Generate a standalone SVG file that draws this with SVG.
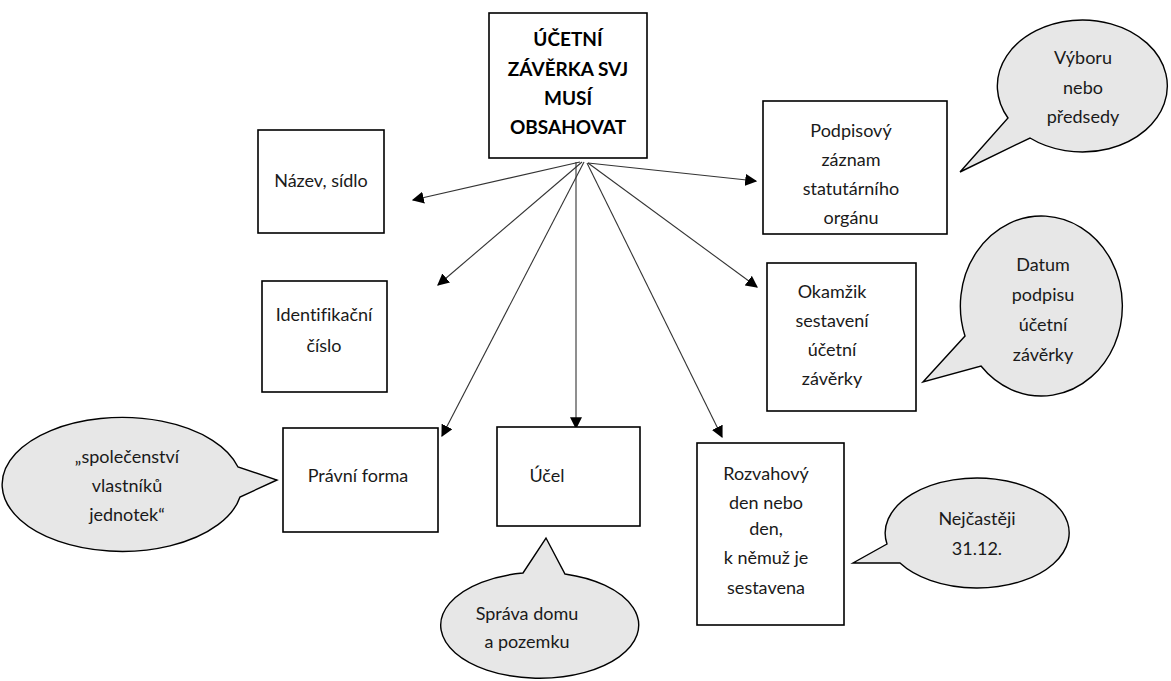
<svg xmlns="http://www.w3.org/2000/svg" width="1171" height="681" viewBox="0 0 1171 681">
<style>
.box{fill:#fff;stroke:#000;stroke-width:1.6}
.bub{fill:#e7e7e7;stroke:#000;stroke-width:1.4;stroke-linejoin:miter}
.t{font-family:Lato,"Open Sans","Liberation Sans",sans-serif;font-size:18px;fill:#1a1a1a;text-anchor:middle;dominant-baseline:central;font-variant-ligatures:none}
.b{font-weight:bold;fill:#000;font-size:19px}
.c{stroke:#333;stroke-width:1.1;fill:none;marker-end:url(#ah)}
</style>
<defs>
<marker id="ah" viewBox="0 0 10 10" refX="9" refY="5" markerWidth="12" markerHeight="12" markerUnits="userSpaceOnUse" orient="auto">
<path d="M0,0 L10,5 L0,10 z" fill="#000"/>
</marker>
</defs>
<rect width="1171" height="681" fill="#fff"/>
<g id="connectors">
<line class="c" x1="580" y1="162" x2="413" y2="200"/>
<line class="c" x1="582" y1="162" x2="438" y2="285"/>
<line class="c" x1="584" y1="162" x2="442" y2="436"/>
<line class="c" x1="576" y1="162" x2="576" y2="428"/>
<line class="c" x1="587" y1="163" x2="722" y2="437"/>
<line class="c" x1="588" y1="163" x2="757" y2="287"/>
<line class="c" x1="588" y1="163" x2="756" y2="181"/>
</g>
<g id="main">
<rect class="box" x="489" y="13" width="158" height="145"/>
<text class="t b" x="568" y="38">ÚČETNÍ</text>
<text class="t b" x="568" y="68">ZÁVĚRKA SVJ</text>
<text class="t b" x="568" y="97">MUSÍ</text>
<text class="t b" x="568" y="126">OBSAHOVAT</text>
</g>
<g id="nazev">
<rect class="box" x="258" y="130" width="126" height="103"/>
<text class="t" x="321" y="180">Název, sídlo</text>
</g>
<g id="ico">
<rect class="box" x="262" y="281" width="125" height="111"/>
<text class="t" x="324" y="314">Identifikační</text>
<text class="t" x="324" y="345">číslo</text>
</g>
<g id="pravni">
<rect class="box" x="283" y="428" width="155" height="104"/>
<text class="t" x="358" y="475">Právní forma</text>
</g>
<g id="ucel">
<rect class="box" x="497" y="427" width="143" height="99"/>
<text class="t" x="547" y="475">Účel</text>
</g>
<g id="rozvahovy">
<rect class="box" x="697" y="443" width="147" height="182"/>
<text class="t" x="766" y="473">Rozvahový</text>
<text class="t" x="766" y="502">den nebo</text>
<text class="t" x="766" y="528">den,</text>
<text class="t" x="766" y="557">k němuž je</text>
<text class="t" x="766" y="587">sestavena</text>
</g>
<g id="podpisovy">
<rect class="box" x="763" y="101" width="184" height="133"/>
<text class="t" x="851" y="130">Podpisový</text>
<text class="t" x="851" y="159">záznam</text>
<text class="t" x="851" y="188">statutárního</text>
<text class="t" x="851" y="217">orgánu</text>
</g>
<g id="okamzik">
<rect class="box" x="767" y="263" width="149" height="148"/>
<text class="t" x="832" y="291">Okamžik</text>
<text class="t" x="832" y="320">sestavení</text>
<text class="t" x="832" y="349">účetní</text>
<text class="t" x="832" y="378">závěrky</text>
</g>
<g id="bubble-vyboru">
<path class="bub" d="M1008,118 A85,66 0 1 1 1030,138 L960,172 Z"/>
<text class="t" x="1083" y="57">Výboru</text>
<text class="t" x="1083" y="87">nebo</text>
<text class="t" x="1083" y="116">předsedy</text>
</g>
<g id="bubble-datum">
<path class="bub" d="M965,336 A81,90 0 1 1 981,366 L923,382 Z"/>
<text class="t" x="1043" y="264">Datum</text>
<text class="t" x="1043" y="294">podpisu</text>
<text class="t" x="1043" y="324">účetní</text>
<text class="t" x="1043" y="354">závěrky</text>
</g>
<g id="bubble-spolecenstvi">
<path class="bub" d="M240,497 A120,67 0 1 1 238,467 L277,480 Z"/>
<text class="t" x="127" y="456">„společenství</text>
<text class="t" x="127" y="485">vlastníků</text>
<text class="t" x="127" y="514">jednotek“</text>
</g>
<g id="bubble-sprava">
<path class="bub" d="M565,574 A99,53 0 1 1 523,573 L546,538 Z"/>
<text class="t" x="527" y="613">Správa domu</text>
<text class="t" x="527" y="641">a pozemku</text>
</g>
<g id="bubble-nejcasteji">
<path class="bub" d="M887,544 A92,55 0 1 1 900,563 L853,563 Z"/>
<text class="t" x="977" y="518">Nejčastěji</text>
<text class="t" x="977" y="548">31.12.</text>
</g>
</svg>
